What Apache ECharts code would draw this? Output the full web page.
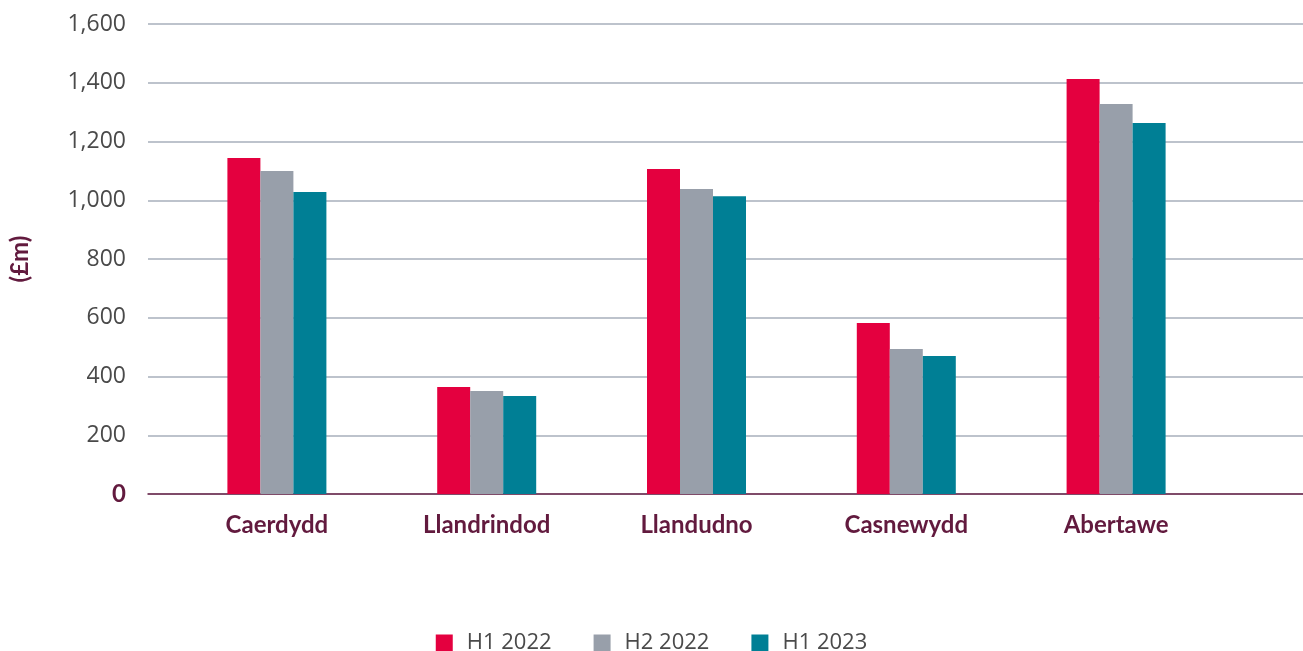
<!DOCTYPE html>
<html>
<head>
<meta charset="utf-8">
<script src="https://cdn.jsdelivr.net/npm/echarts@6/dist/echarts.min.js"></script>
<style>
  html, body { margin: 0; padding: 0; background: #fff; }
  #chart { width: 1303px; height: 651px; }
</style>
</head>
<body>
<div id="chart"></div>
<script>
// regions along the x axis
const regions = ['Caerdydd', 'Llandrindod', 'Llandudno', 'Casnewydd', 'Abertawe'];
// values in £m
const h1_2022 = [1144, 364, 1106, 582, 1413];
const h2_2022 = [1100, 351, 1038, 494, 1328];
const h1_2023 = [1028, 334, 1014, 470, 1263];
const yTicks = [0, 200, 400, 600, 800, 1000, 1200, 1400, 1600];

const maroon = '#621a3e';
const chart = echarts.init(document.getElementById('chart'));

chart.setOption({
  animation: false,
  legend: {
    top: 627,
    left: 'center',
    itemWidth: 17,
    itemHeight: 17,
    itemGap: 42,
    icon: 'rect',
    textStyle: { fontFamily: 'Open Sans', fontSize: 22, color: '#4a4a4a', padding: [0, 0, 0, 9] },
    data: ['H1 2022', 'H2 2022', 'H1 2023']
  },
  grid: [
    // gridlines / y labels
    { left: 145, right: 0, top: 24, bottom: 157 },
    // bars
    { left: 172, right: 82, top: 24, bottom: 157 }
  ],
  xAxis: [
    {
      gridIndex: 0, type: 'value', min: 0, max: 1,
      axisLine: { show: true, onZero: false, lineStyle: { color: '#6b2448', width: 1.5 } },
      axisTick: { show: false }, axisLabel: { show: false }, splitLine: { show: false }
    },
    {
      gridIndex: 1, type: 'category', data: regions,
      axisLine: { show: false }, axisTick: { show: false },
      axisLabel: { margin: 19, fontFamily: 'Lato', fontWeight: 'bold', fontSize: 24, color: maroon }
    }
  ],
  yAxis: [
    {
      gridIndex: 0, type: 'value', min: yTicks[0], max: yTicks[yTicks.length - 1], interval: 200,
      name: '(£m)', nameLocation: 'middle', nameRotate: 90, nameGap: 116,
      nameTextStyle: { fontFamily: 'Lato', fontWeight: 'bold', fontSize: 24, color: maroon },
      axisLine: { show: false }, axisTick: { show: false },
      axisLabel: {
        margin: 22,
        formatter: v => v === 0 ? '{zero|0}' : v.toLocaleString('en-GB'),
        fontFamily: 'Open Sans', fontSize: 23, color: '#4a4a4a',
        rich: { zero: { fontFamily: 'Lato', fontWeight: 'bold', fontSize: 24, color: maroon } }
      },
      splitLine: { lineStyle: { color: '#a7afbb', width: 1.5 } }
    },
    {
      gridIndex: 1, type: 'value', min: 0, max: 1600, interval: 200, show: false,
      splitLine: { show: false }
    }
  ],
  series: [
    { name: 'H1 2022', type: 'bar', xAxisIndex: 1, yAxisIndex: 1, data: h1_2022, barWidth: 33, barGap: '0%', itemStyle: { color: '#e4003f' } },
    { name: 'H2 2022', type: 'bar', xAxisIndex: 1, yAxisIndex: 1, data: h2_2022, barWidth: 33, barGap: '0%', itemStyle: { color: '#989faa' } },
    { name: 'H1 2023', type: 'bar', xAxisIndex: 1, yAxisIndex: 1, data: h1_2023, barWidth: 33, barGap: '0%', itemStyle: { color: '#007f95' } }
  ]
});
</script>
</body>
</html>
